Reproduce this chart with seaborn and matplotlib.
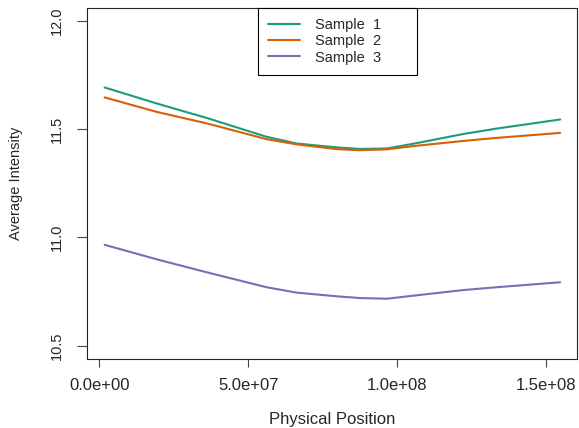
import numpy as np
import pandas as pd
import matplotlib
matplotlib.use('Agg')
import matplotlib.pyplot as plt
import seaborn as sns

# values
position = [1.8e6, 1.93e7, 3.61e7, 5.62e7, 6.63e7, 7.98e7, 8.76e7, 9.66e7,
            1.055e8, 1.223e8, 1.335e8, 1.548e8]
sample_1 = [11.693, 11.619, 11.552, 11.465, 11.434, 11.416, 11.409, 11.411,
            11.433, 11.478, 11.503, 11.545]
sample_2 = [11.647, 11.580, 11.527, 11.454, 11.430, 11.408, 11.403, 11.407,
            11.422, 11.446, 11.460, 11.483]
sample_3 = [10.966, 10.899, 10.839, 10.770, 10.745, 10.728, 10.720, 10.717,
            10.731, 10.757, 10.770, 10.793]
sample_names = ['Sample  1', 'Sample  2', 'Sample  3']
colors = ['#1B9E77', '#D95F02', '#7570B3']
x_ticks = [0, 5e7, 1e8, 1.5e8]
x_labels = ['0.0e+00', '5.0e+07', '1.0e+08', '1.5e+08']
y_ticks = [10.5, 11.0, 11.5, 12.0]

df = pd.DataFrame({
    'position': position * 3,
    'intensity': sample_1 + sample_2 + sample_3,
    'sample': np.repeat(sample_names, len(position)),
})

sns.set_theme(style='ticks')
plt.rcParams['font.family'] = ['Liberation Sans', 'DejaVu Sans']

fig = plt.figure(figsize=(5.79, 4.28), dpi=100)
ax = fig.add_axes([0.1497, 0.162, 0.9963 - 0.1497, 0.9813 - 0.162])

sns.lineplot(data=df, x='position', y='intensity', hue='sample',
             palette=colors, linewidth=1.5, ax=ax)

ax.set_xlim(-4.23e6, 1.604e8)
ax.set_ylim(10.44, 12.06)
ax.set_xticks(x_ticks)
ax.set_xticklabels(x_labels, fontsize=12)
ax.set_yticks(y_ticks)
ax.set_yticklabels([f'{v:.1f}' for v in y_ticks], fontsize=10.5,
                   rotation=90, va='center')
ax.tick_params(axis='x', length=6, width=0.8, color='#444444', pad=8)
ax.tick_params(axis='y', length=7.5, width=0.8, color='#444444', pad=9)
for s in ax.spines.values():
    s.set_visible(True)
    s.set_linewidth(0.8)
    s.set_color('#222222')

ax.set_xlabel('Physical Position', fontsize=12, labelpad=13.5)
ax.set_ylabel('Average Intensity', fontsize=10.5, labelpad=19)

leg = ax.legend(loc='upper left', bbox_to_anchor=(0.3496, 0.0, 0.3245, 1.0),
                mode='expand', borderaxespad=0, fancybox=False, framealpha=1,
                edgecolor='black', fontsize=10.5, handlelength=2.2,
                handletextpad=1.0, labelspacing=0.15, borderpad=0.7)
leg.get_frame().set_linewidth(0.8)

fig.savefig('out.png', dpi=100)
